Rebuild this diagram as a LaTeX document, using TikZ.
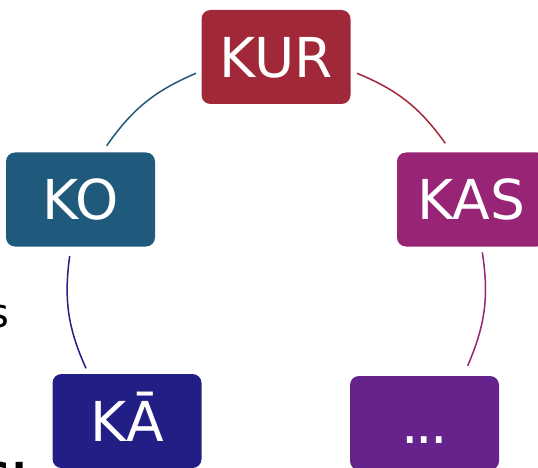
\documentclass[tikz,border=0pt]{standalone}
\usepackage{fontspec}
\setmainfont{DejaVu Sans}
\definecolor{kurcol}{RGB}{161,40,56}
\definecolor{kocol}{RGB}{31,89,124}
\definecolor{kascol}{RGB}{152,36,118}
\definecolor{kaacol}{RGB}{33,31,133}
\definecolor{dotcol}{RGB}{102,35,140}
\tikzset{
  cyclebox/.style={rounded corners=9pt, minimum width=149pt, minimum height=94pt,
    inner sep=0pt, text=white, text height=40.1pt, text depth=0pt,
    font=\fontsize{55}{63}\selectfont},
  cyclearc/.style={line width=1.5pt, bend left=16}
}
\begin{document}
\begin{tikzpicture}[x=1pt,y=1pt]
\useasboundingbox (0,0) rectangle (538,-468);
\clip (0,0) rectangle (538,-468);
\node[cyclebox, fill=kurcol] (kur) at (276,-57) {KUR};
\node[cyclebox, fill=kocol] (ko) at (80.5,-199.5) {KO};
\node[cyclebox, fill=kascol] (kas) at (471.5,-199.5) {KAS};
\node[cyclebox, fill=kaacol] (kaa) at (127,-421) {KĀ};
\node[cyclebox, fill=dotcol] (more) at (424.5,-423) {.\kern-3pt.\kern-3pt.};
\coordinate (a1) at (357,-73.3);
\coordinate (a2) at (445.3,-143.3);
\coordinate (b1) at (482.3,-252.3);
\coordinate (b2) at (467.7,-365.7);
\coordinate (c1) at (86,-368.3);
\coordinate (c2) at (69.7,-256);
\coordinate (d1) at (106.7,-145.7);
\coordinate (d2) at (196,-73.3);
\draw[cyclearc, kurcol] (a1) to (a2);
\draw[cyclearc, kascol] (b1) to (b2);
\draw[cyclearc, kaacol] (c1) to (c2);
\draw[cyclearc, kocol] (d1) to (d2);
\node[anchor=base east, inner sep=0pt, font=\fontsize{40}{48}\selectfont] (sfrag) at (10,-327) {s};
\node[anchor=base west, inner sep=0pt, font=\fontsize{40}{48}\selectfont\bfseries] (bfrag) at (-18,-491) {S!};
\end{tikzpicture}
\end{document}
